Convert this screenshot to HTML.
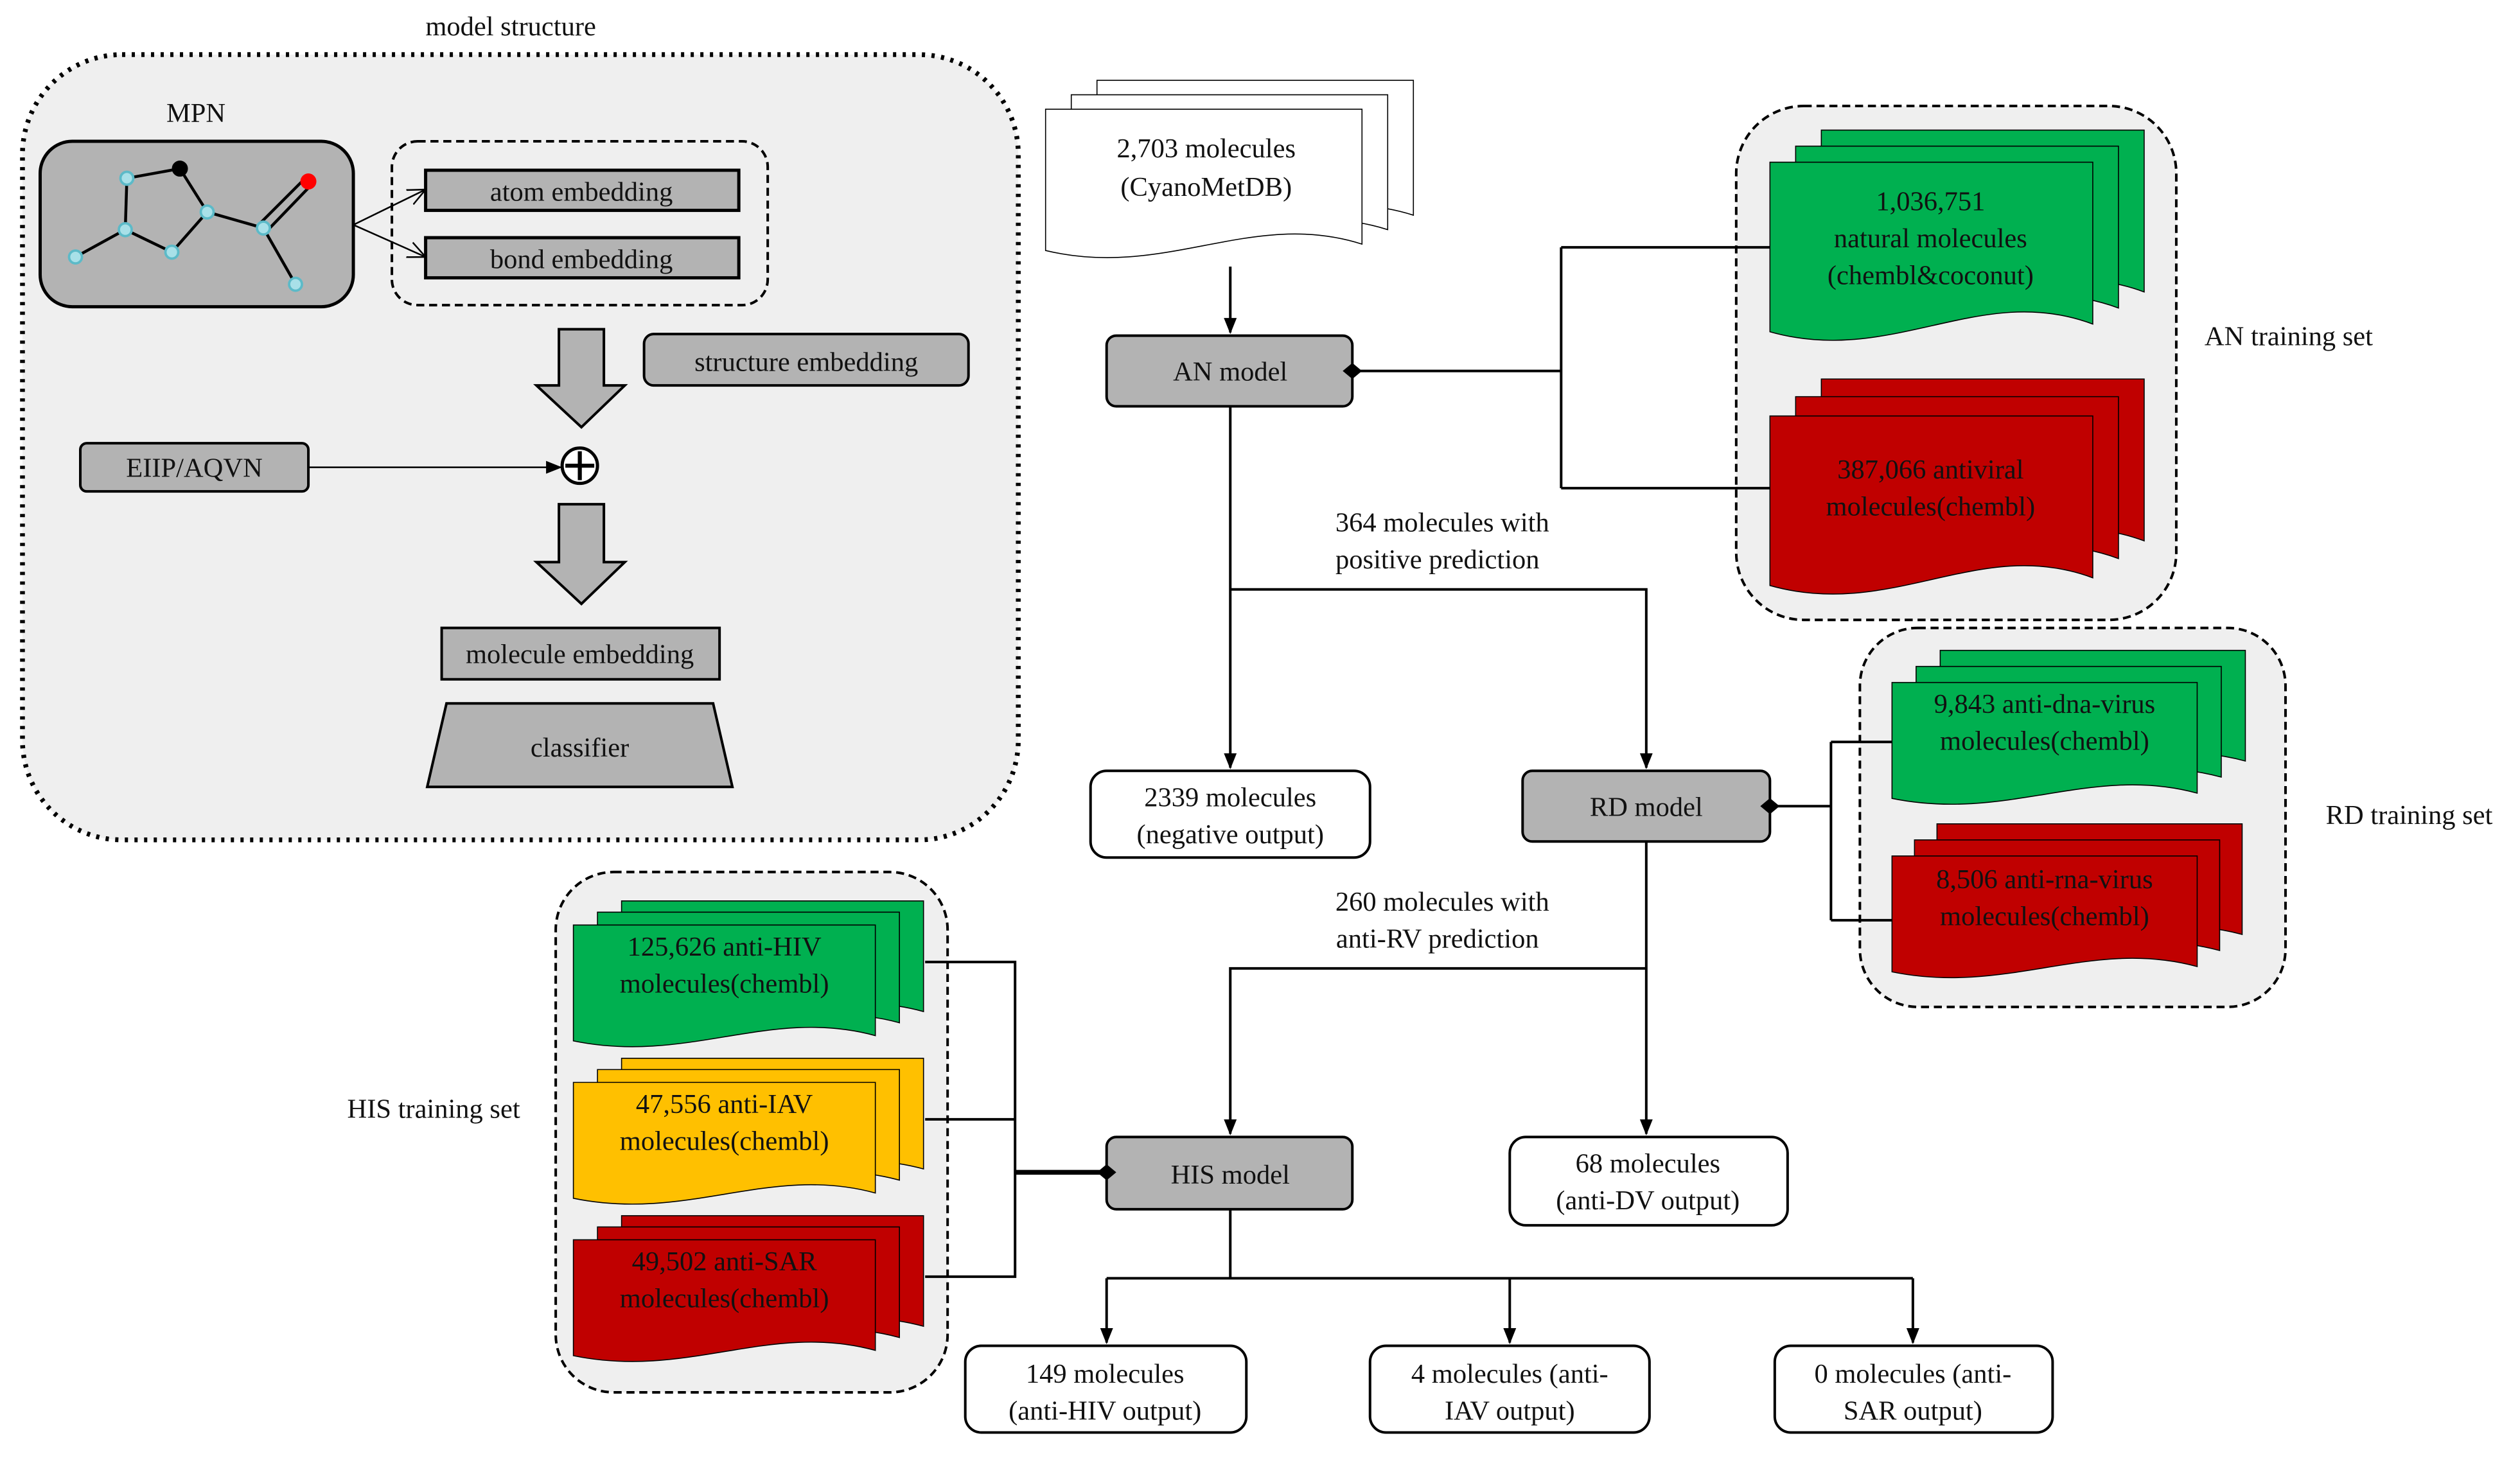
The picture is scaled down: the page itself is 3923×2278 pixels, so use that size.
<!DOCTYPE html>
<html><head><meta charset="utf-8"><style>
html,body{margin:0;padding:0;background:#fff}
svg{display:block;font-family:"Liberation Serif","DejaVu Serif",serif}
svg text{font-family:"Liberation Serif","DejaVu Serif",serif !important;font-size:17px;fill:#111}
.d{fill:currentColor;stroke:#000;stroke-width:1.6}
</style></head><body>
<svg width="3923" height="2278" viewBox="0 0 1569 911" preserveAspectRatio="none" font-family="Liberation Serif, DejaVu Serif, serif">
<defs>
<path id="doc" d="M0,0 H100 V84 C65,62 38,106 0,88 Z" vector-effect="non-scaling-stroke"/>
<marker id="ar" markerWidth="10" markerHeight="10" refX="9" refY="5" orient="auto" markerUnits="userSpaceOnUse"><path d="M0,1 L10,5 L0,9 Z" fill="#000"/></marker>
<marker id="oa" markerWidth="12" markerHeight="12" refX="11" refY="6" orient="auto" markerUnits="userSpaceOnUse"><path d="M0,1 L11,6 L0,11" fill="none" stroke="#000" stroke-width="1"/></marker>
</defs>
<g font-family="Liberation Serif, DejaVu Serif, serif">
<!-- model structure -->
<text x="318" y="22" text-anchor="middle">model structure</text>
<rect x="14" y="34" width="620" height="489" rx="62" fill="#efefef" stroke="#000" stroke-width="3" stroke-dasharray="2,4"/>
<text x="122" y="76" text-anchor="middle">MPN</text>
<rect x="25" y="88" width="195" height="103" rx="20" fill="#b3b3b3" stroke="#000" stroke-width="2"/>
<g stroke="#000" stroke-width="1.8">
<line x1="79" y1="111" x2="112" y2="105"/><line x1="112" y1="105" x2="129" y2="132"/>
<line x1="79" y1="111" x2="78" y2="143"/><line x1="78" y1="143" x2="107" y2="157"/>
<line x1="107" y1="157" x2="129" y2="132"/><line x1="129" y1="132" x2="164" y2="142"/>
<line x1="78" y1="143" x2="47" y2="160"/><line x1="164" y1="142" x2="184" y2="177"/>
<line x1="162" y1="139" x2="189" y2="112"/><line x1="167" y1="143" x2="193" y2="116"/>
</g>
<g fill="#a8e0e8" stroke="#5cbac8" stroke-width="1.5">
<circle cx="79" cy="111" r="4"/><circle cx="78" cy="143" r="4"/><circle cx="107" cy="157" r="4"/>
<circle cx="129" cy="132" r="4"/><circle cx="164" cy="142" r="4"/><circle cx="47" cy="160" r="4"/><circle cx="184" cy="177" r="4"/>
</g>
<circle cx="112" cy="105" r="5" fill="#000"/><circle cx="192" cy="113" r="5" fill="#f00"/>
<rect x="244" y="88" width="234" height="102" rx="16" fill="none" stroke="#000" stroke-width="1.6" stroke-dasharray="5,3"/>
<line x1="220" y1="140" x2="265" y2="118" stroke="#000" marker-end="url(#oa)"/>
<line x1="220" y1="140" x2="265" y2="160" stroke="#000" marker-end="url(#oa)"/>
<rect x="265" y="106" width="195" height="25" fill="#b3b3b3" stroke="#000" stroke-width="2"/>
<text x="362" y="125" text-anchor="middle">atom embedding</text>
<rect x="265" y="148" width="195" height="25" fill="#b3b3b3" stroke="#000" stroke-width="2"/>
<text x="362" y="167" text-anchor="middle">bond embedding</text>
<path d="M348,205 H376 V240 H389 L362,266 L334,240 H348 Z" fill="#b3b3b3" stroke="#000" stroke-width="1.6"/>
<rect x="401" y="208" width="202" height="32" rx="6" fill="#b3b3b3" stroke="#000" stroke-width="1.6"/>
<text x="502" y="231" text-anchor="middle">structure embedding</text>
<rect x="50" y="276" width="142" height="30" rx="4" fill="#b3b3b3" stroke="#000" stroke-width="1.6"/>
<text x="121" y="297" text-anchor="middle">EIIP/AQVN</text>
<line x1="192" y1="291" x2="349" y2="291" stroke="#000" stroke-width="1" marker-end="url(#ar)"/>
<circle cx="361" cy="290" r="11" fill="#fff" stroke="#000" stroke-width="2"/>
<line x1="352" y1="290" x2="370" y2="290" stroke="#000" stroke-width="2.5"/><line x1="361" y1="281" x2="361" y2="299" stroke="#000" stroke-width="2.5"/>
<path d="M348,314 H376 V350 H389 L362,376 L334,350 H348 Z" fill="#b3b3b3" stroke="#000" stroke-width="1.6"/>
<rect x="275" y="391" width="173" height="32" fill="#b3b3b3" stroke="#000" stroke-width="1.6"/>
<text x="361" y="413" text-anchor="middle">molecule embedding</text>
<path d="M278,438 H444 L456,490 H266 Z" fill="#b3b3b3" stroke="#000" stroke-width="1.6"/>
<text x="361" y="471" text-anchor="middle">classifier</text>

<!-- input doc -->
<g class="d" style="color:#fff">
<use href="#doc" transform="translate(683,50) scale(1.97,1.0)"/>
<use href="#doc" transform="translate(667,59) scale(1.97,1.0)"/>
<use href="#doc" transform="translate(651,68) scale(1.97,1.0)"/>
</g>
<text x="751" y="98" text-anchor="middle">2,703 molecules</text>
<text x="751" y="122" text-anchor="middle">(CyanoMetDB)</text>
<line x1="766" y1="166" x2="766" y2="207" stroke="#000" stroke-width="1.6" marker-end="url(#ar)"/>

<!-- AN -->
<rect x="1081" y="66" width="274" height="320" rx="42" fill="#efefef" stroke="#000" stroke-width="1.6" stroke-dasharray="5,3"/>
<g class="d" style="color:#00b050">
<use href="#doc" transform="translate(1134,81) scale(2.01,1.2)"/>
<use href="#doc" transform="translate(1118,91) scale(2.01,1.2)"/>
<use href="#doc" transform="translate(1102,101) scale(2.01,1.2)"/>
</g>
<text x="1202" y="131" text-anchor="middle">1,036,751</text>
<text x="1202" y="154" text-anchor="middle">natural molecules</text>
<text x="1202" y="177" text-anchor="middle">(chembl&amp;coconut)</text>
<g class="d" style="color:#c00000">
<use href="#doc" transform="translate(1134,236) scale(2.01,1.2)"/>
<use href="#doc" transform="translate(1118,247) scale(2.01,1.2)"/>
<use href="#doc" transform="translate(1102,259) scale(2.01,1.2)"/>
</g>
<text x="1202" y="298" text-anchor="middle">387,066 antiviral</text>
<text x="1202" y="321" text-anchor="middle">molecules(chembl)</text>
<text x="1425" y="215" text-anchor="middle">AN training set</text>
<path d="M842,231 H972 M972,154 V304 M972,154 H1102 M972,304 H1102" fill="none" stroke="#000" stroke-width="1.6"/>
<rect x="689" y="209" width="153" height="44" rx="6" fill="#b3b3b3" stroke="#000" stroke-width="1.6"/>
<text x="766" y="237" text-anchor="middle">AN model</text>
<path d="M836,231 L842,226 L848,231 L842,236 Z" fill="#000"/>
<line x1="766" y1="253" x2="766" y2="478" stroke="#000" stroke-width="1.6" marker-end="url(#ar)"/>
<path d="M766,367 H1025 V478" fill="none" stroke="#000" stroke-width="1.6" marker-end="url(#ar)"/>
<text x="898" y="331" text-anchor="middle">364 molecules with</text>
<text x="895" y="354" text-anchor="middle">positive prediction</text>
<rect x="679" y="480" width="174" height="54" rx="10" fill="#fff" stroke="#000" stroke-width="1.6"/>
<text x="766" y="502" text-anchor="middle">2339 molecules</text>
<text x="766" y="525" text-anchor="middle">(negative output)</text>

<!-- RD -->
<rect x="1158" y="391" width="265" height="236" rx="36" fill="#efefef" stroke="#000" stroke-width="1.6" stroke-dasharray="5,3"/>
<g class="d" style="color:#00b050">
<use href="#doc" transform="translate(1208,405) scale(1.9,0.82)"/>
<use href="#doc" transform="translate(1193,415) scale(1.9,0.82)"/>
<use href="#doc" transform="translate(1178,425) scale(1.9,0.82)"/>
</g>
<text x="1273" y="444" text-anchor="middle">9,843 anti-dna-virus</text>
<text x="1273" y="467" text-anchor="middle">molecules(chembl)</text>
<g class="d" style="color:#c00000">
<use href="#doc" transform="translate(1206,513) scale(1.9,0.82)"/>
<use href="#doc" transform="translate(1192,523) scale(1.9,0.82)"/>
<use href="#doc" transform="translate(1178,533) scale(1.9,0.82)"/>
</g>
<text x="1273" y="553" text-anchor="middle">8,506 anti-rna-virus</text>
<text x="1273" y="576" text-anchor="middle">molecules(chembl)</text>
<text x="1500" y="513" text-anchor="middle">RD training set</text>
<path d="M1102,502 H1140 M1140,462 V573 M1140,462 H1178 M1140,573 H1178" fill="none" stroke="#000" stroke-width="1.6"/>
<rect x="948" y="480" width="154" height="44" rx="6" fill="#b3b3b3" stroke="#000" stroke-width="1.6"/>
<text x="1025" y="508" text-anchor="middle">RD model</text>
<path d="M1096,502 L1102,497 L1108,502 L1102,507 Z" fill="#000"/>
<line x1="1025" y1="524" x2="1025" y2="706" stroke="#000" stroke-width="1.6" marker-end="url(#ar)"/>
<path d="M1025,603 H766 V706" fill="none" stroke="#000" stroke-width="1.6" marker-end="url(#ar)"/>
<text x="898" y="567" text-anchor="middle">260 molecules with</text>
<text x="895" y="590" text-anchor="middle">anti-RV prediction</text>
<rect x="940" y="708" width="173" height="55" rx="10" fill="#fff" stroke="#000" stroke-width="1.6"/>
<text x="1026" y="730" text-anchor="middle">68 molecules</text>
<text x="1026" y="753" text-anchor="middle">(anti-DV output)</text>

<!-- HIS -->
<rect x="346" y="543" width="244" height="324" rx="36" fill="#efefef" stroke="#000" stroke-width="1.6" stroke-dasharray="5,3"/>
<g class="d" style="color:#00b050">
<use href="#doc" transform="translate(387,561) scale(1.88,0.82)"/>
<use href="#doc" transform="translate(372,568) scale(1.88,0.82)"/>
<use href="#doc" transform="translate(357,576) scale(1.88,0.82)"/>
</g>
<text x="451" y="595" text-anchor="middle">125,626 anti-HIV</text>
<text x="451" y="618" text-anchor="middle">molecules(chembl)</text>
<g class="d" style="color:#ffc000">
<use href="#doc" transform="translate(387,659) scale(1.88,0.82)"/>
<use href="#doc" transform="translate(372,666) scale(1.88,0.82)"/>
<use href="#doc" transform="translate(357,674) scale(1.88,0.82)"/>
</g>
<text x="451" y="693" text-anchor="middle">47,556 anti-IAV</text>
<text x="451" y="716" text-anchor="middle">molecules(chembl)</text>
<g class="d" style="color:#c00000">
<use href="#doc" transform="translate(387,757) scale(1.88,0.82)"/>
<use href="#doc" transform="translate(372,764) scale(1.88,0.82)"/>
<use href="#doc" transform="translate(357,772) scale(1.88,0.82)"/>
</g>
<text x="451" y="791" text-anchor="middle">49,502 anti-SAR</text>
<text x="451" y="814" text-anchor="middle">molecules(chembl)</text>
<text x="270" y="696" text-anchor="middle">HIS training set</text>
<path d="M576,599 H632 V795 H576 M576,697 H632" fill="none" stroke="#000" stroke-width="1.6"/>
<line x1="632" y1="730" x2="689" y2="730" stroke="#000" stroke-width="3"/>
<rect x="689" y="708" width="153" height="45" rx="6" fill="#b3b3b3" stroke="#000" stroke-width="1.6"/>
<text x="766" y="737" text-anchor="middle">HIS model</text>
<path d="M683,730 L689,725 L695,730 L689,735 Z" fill="#000"/>
<path d="M766,753 V796 M689,796 H1191" fill="none" stroke="#000" stroke-width="1.6"/>
<line x1="689" y1="796" x2="689" y2="836" stroke="#000" stroke-width="1.6" marker-end="url(#ar)"/>
<line x1="940" y1="796" x2="940" y2="836" stroke="#000" stroke-width="1.6" marker-end="url(#ar)"/>
<line x1="1191" y1="796" x2="1191" y2="836" stroke="#000" stroke-width="1.6" marker-end="url(#ar)"/>
<rect x="601" y="838" width="175" height="54" rx="10" fill="#fff" stroke="#000" stroke-width="1.6"/>
<text x="688" y="861" text-anchor="middle">149 molecules</text>
<text x="688" y="884" text-anchor="middle">(anti-HIV output)</text>
<rect x="853" y="838" width="174" height="54" rx="10" fill="#fff" stroke="#000" stroke-width="1.6"/>
<text x="940" y="861" text-anchor="middle">4 molecules (anti-</text>
<text x="940" y="884" text-anchor="middle">IAV output)</text>
<rect x="1105" y="838" width="173" height="54" rx="10" fill="#fff" stroke="#000" stroke-width="1.6"/>
<text x="1191" y="861" text-anchor="middle">0 molecules (anti-</text>
<text x="1191" y="884" text-anchor="middle">SAR output)</text>
</g>
</svg>
</body></html>
